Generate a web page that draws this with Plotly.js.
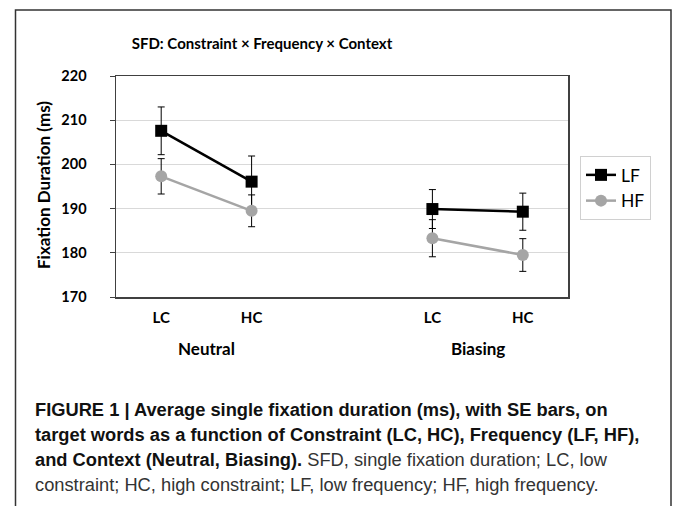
<!DOCTYPE html>
<html>
<head>
<meta charset="utf-8">
<script src="https://cdn.plot.ly/plotly-3.0.1.min.js"></script>
<style>
  html, body { margin: 0; padding: 0; background: #fff; }
  #chart { width: 673px; height: 506px; }
</style>
</head>
<body>
<div id="chart"></div>
<script>
// ---- data ----
var contexts = ["Neutral", "Biasing"];
var constraints = ["LC", "HC"];
var seriesNames = ["LF", "HF"];
// values ordered: Neutral-LC, Neutral-HC, Biasing-LC, Biasing-HC
var lfMeans = [207.6, 196.1, 189.9, 189.3];
var lfSE    = [5.4, 5.8, 4.4, 4.2];
var hfMeans = [197.3, 189.5, 183.3, 179.5];
var hfSE    = [4.0, 3.6, 4.2, 3.7];
var yTicks = [170, 180, 190, 200, 210, 220];

// ---- positions from categories (one empty slot between contexts, lines broken there) ----
var xPos = [], xText = [], groupCenters = [];
contexts.forEach(function (ctx, g) {
  var start = g * (constraints.length + 1);
  constraints.forEach(function (c, i) { xPos.push(start + i); xText.push(c); });
  groupCenters.push(start + (constraints.length - 1) / 2);
});
function withGaps(arr) {
  var out = [];
  arr.forEach(function (v, i) {
    if (i > 0 && i % constraints.length === 0) out.push(null);
    out.push(v);
  });
  return out;
}
var xPlot = [];
xPos.forEach(function (v, i) {
  if (i > 0 && i % constraints.length === 0) xPlot.push(v - 1);
  xPlot.push(v);
});

// pixel helpers for layout positioning
var W = 673, H = 506, L = 116, R = 105, T = 76, B = 209;
var pw = W - L - R, ph = H - T - B;
function pxX(px) { return (px - L) / pw; }
function pxY(py) { return (H - B - py) / ph; }

var font = "Lato, 'Open Sans', sans-serif";
var capFont = "'Liberation Sans Narrow', 'Arial Narrow', 'Liberation Sans', sans-serif";

var traces = [
  {
    x: xPlot, y: withGaps(lfMeans), name: seriesNames[0], type: "scatter", mode: "lines+markers",
    connectgaps: false,
    line: { color: "#000000", width: 2.5 },
    marker: { symbol: "square", size: 12, color: "#000000" },
    error_y: { type: "data", array: withGaps(lfSE), visible: true, color: "#000000", thickness: 1, width: 3.5 }
  },
  {
    x: xPlot, y: withGaps(hfMeans), name: seriesNames[1], type: "scatter", mode: "lines+markers",
    connectgaps: false,
    line: { color: "#a5a5a5", width: 2.5 },
    marker: { symbol: "circle", size: 12, color: "#a5a5a5" },
    error_y: { type: "data", array: withGaps(hfSE), visible: true, color: "#000000", thickness: 1, width: 3.5 }
  }
];

var annotations = [];
contexts.forEach(function (ctx, g) {
  annotations.push({
    x: groupCenters[g], xref: "x", y: pxY(348), yref: "paper",
    text: "<b>" + ctx + "</b>", showarrow: false, xanchor: "center", yanchor: "middle",
    font: { family: font, size: 17, color: "#000" }
  });
});
annotations.push({
  x: pxX(43), xref: "paper", y: pxY(185), yref: "paper", textangle: -90,
  text: "<b>Fixation Duration (ms)</b>", showarrow: false, xanchor: "center", yanchor: "middle",
  font: { family: font, size: 17, color: "#000" }
});

var capLines = [
  "<b>FIGURE 1 | Average single fixation duration (ms), with SE bars, on</b>",
  "<b>target words as a function of Constraint (LC, HC), Frequency (LF, HF),</b>",
  "<b>and Context (Neutral, Biasing).</b> <span style='color:#333'>SFD, single fixation duration; LC, low</span>",
  "<span style='color:#333'>constraint; HC, high constraint; LF, low frequency; HF, high frequency.</span>"
];
var capY = [409, 434, 459, 484];
capLines.forEach(function (t, i) {
  annotations.push({
    x: pxX(33), xref: "paper", y: pxY(capY[i]), yref: "paper",
    text: t, showarrow: false, xanchor: "left", yanchor: "middle",
    font: { family: capFont, size: 18.3, color: "#111" }
  });
});

var layout = {
  width: W, height: H,
  margin: { l: L, r: R, t: T, b: B },
  paper_bgcolor: "#ffffff", plot_bgcolor: "#ffffff",
  title: {
    text: "<b>SFD: Constraint × Frequency × Context</b>",
    x: 262 / W, xref: "container", xanchor: "center",
    y: 1 - 44 / H, yref: "container", yanchor: "middle",
    font: { family: font, size: 15, color: "#000" }
  },
  xaxis: {
    range: [-0.5, xPos[xPos.length - 1] + 0.5],
    tickvals: xPos, ticktext: xText.map(function (s) { return "<b>" + s + "</b>"; }),
    showgrid: false, zeroline: false,
    showline: true, linecolor: "#404040", linewidth: 1.5, mirror: true,
    ticks: "", ticklabelstandoff: 6,
    tickfont: { family: font, size: 15, color: "#000" }
  },
  yaxis: {
    range: [170, 220], tickvals: yTicks,
    ticktext: yTicks.map(function (v) { return "<b>" + v + "</b>"; }),
    showgrid: true, gridcolor: "#d9d9d9", gridwidth: 1, zeroline: false,
    showline: true, linecolor: "#404040", linewidth: 1.5, mirror: true,
    ticks: "outside", ticklen: 5, tickcolor: "#404040",
    ticklabelstandoff: 20,
    tickfont: { family: font, size: 14.5, color: "#000" }
  },
  showlegend: true,
  legend: {
    x: pxX(580), xanchor: "left", y: pxY(156), yanchor: "top",
    bordercolor: "#d0d0d0", borderwidth: 1, bgcolor: "#ffffff",
    font: { family: font, size: 17.5, color: "#000" },
    itemwidth: 30, tracegroupgap: 0
  },
  annotations: annotations,
  shapes: [{
    type: "rect", xref: "paper", yref: "paper",
    x0: pxX(15.5), x1: pxX(671), y0: pxY(520), y1: pxY(10),
    line: { color: "#333333", width: 1.5 }, fillcolor: "rgba(0,0,0,0)", layer: "below"
  }]
};

Plotly.newPlot("chart", traces, layout, { displayModeBar: false, staticPlot: true });
</script>
</body>
</html>
